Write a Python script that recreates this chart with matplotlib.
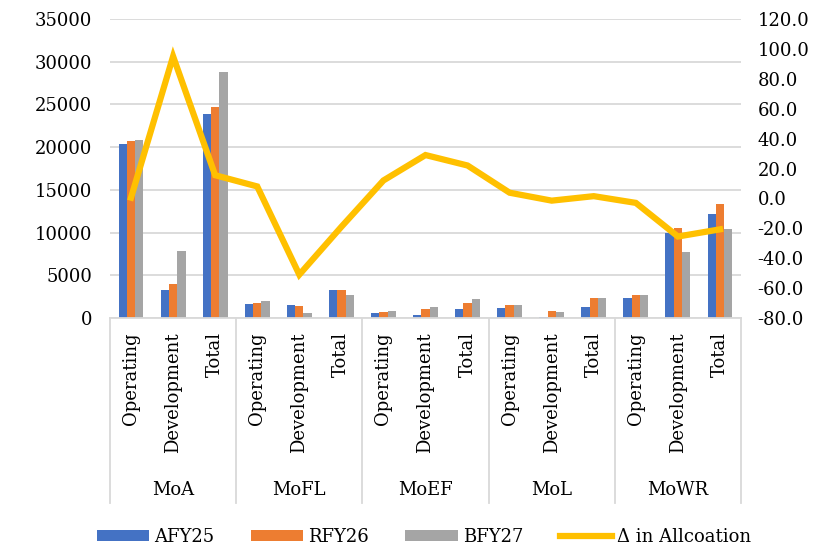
import matplotlib.pyplot as plt
import matplotlib.transforms as mtransforms
from matplotlib.ticker import FormatStrFormatter
import numpy as np

plt.rcParams['font.family'] = ['DejaVu Serif']
plt.rcParams['font.size'] = 13

ministries = ['MoA', 'MoFL', 'MoEF', 'MoL', 'MoWR']
parts = ['Operating', 'Development', 'Total']

afy25 = [20370, 3320, 23850, 1680, 1520, 3240, 585, 390, 1090, 1135, 150, 1290, 2300, 9910, 12180]
rfy26 = [20720, 3980, 24740, 1760, 1400, 3240, 665, 1015, 1760, 1520, 780, 2340, 2690, 10540, 13300]
bfy27 = [20840, 7880, 28840, 1990, 620, 2690, 780, 1325, 2190, 1560, 700, 2340, 2650, 7770, 10460]
delta = [0.5, 95.0, 15.5, 8.0, -51.0, -19.0, 12.0, 29.0, 22.0, 3.8, -1.5, 1.5, -3.0, -25.5, -20.7]

fig = plt.figure(figsize=(8.13, 5.48), dpi=100)
ax = fig.add_axes([110 / 813, 230 / 548, 631 / 813, 299 / 548])

x = np.arange(len(afy25))
w = 0.197
ax.bar(x - w, afy25, w, color='#4472C4', label='AFY25', zorder=2)
ax.bar(x, rfy26, w, color='#ED7D31', label='RFY26', zorder=2)
ax.bar(x + w, bfy27, w, color='#A5A5A5', label='BFY27', zorder=2)

ax.set_xlim(-0.5, len(x) - 0.5)
ax.set_ylim(0, 35000)
ax.set_yticks(range(0, 35001, 5000))
ax.grid(axis='y', color='#D9D9D9', linewidth=1.3, zorder=0)
ax.set_axisbelow(True)
for s in ['top', 'left', 'right']:
    ax.spines[s].set_visible(False)
ax.spines['bottom'].set_color('#D9D9D9')
ax.spines['bottom'].set_linewidth(1.3)
ax.tick_params(axis='y', length=0, pad=13)
ax.set_xticks(x)
ax.set_xticklabels(parts * len(ministries), rotation=90, va='top')
ax.tick_params(axis='x', length=0, pad=10)

# group separators and group labels
trans = mtransforms.blended_transform_factory(ax.transData, ax.transAxes)
for i in range(len(ministries) + 1):
    ax.plot([3 * i - 0.5, 3 * i - 0.5], [0, -0.62], color='#D9D9D9', linewidth=1.3,
            transform=trans, clip_on=False)
for i, m in enumerate(ministries):
    ax.text(3 * i + 1, -0.575, m, transform=trans, ha='center', va='center')

ax2 = ax.twinx()
ax2.plot(x, delta, color='#FFC000', linewidth=4.5, label='Δ in Allcoation',
         solid_joinstyle='miter', zorder=3)
ax2.set_ylim(-80, 120)
ax2.set_yticks(range(-80, 121, 20))
ax2.yaxis.set_major_formatter(FormatStrFormatter('%.1f'))
ax2.tick_params(axis='y', length=0, pad=12)
for s in ['top', 'left', 'right', 'bottom']:
    ax2.spines[s].set_visible(False)

h1, l1 = ax.get_legend_handles_labels()
h2, l2 = ax2.get_legend_handles_labels()
fig.legend(h1 + h2, l1 + l2, loc='center', bbox_to_anchor=(424 / 813, 1 - 537 / 548),
           ncol=4, frameon=False, handlelength=2.9, handleheight=0.6,
           columnspacing=2.0, handletextpad=0.3, borderaxespad=0)

plt.savefig('out.png', dpi=100)
